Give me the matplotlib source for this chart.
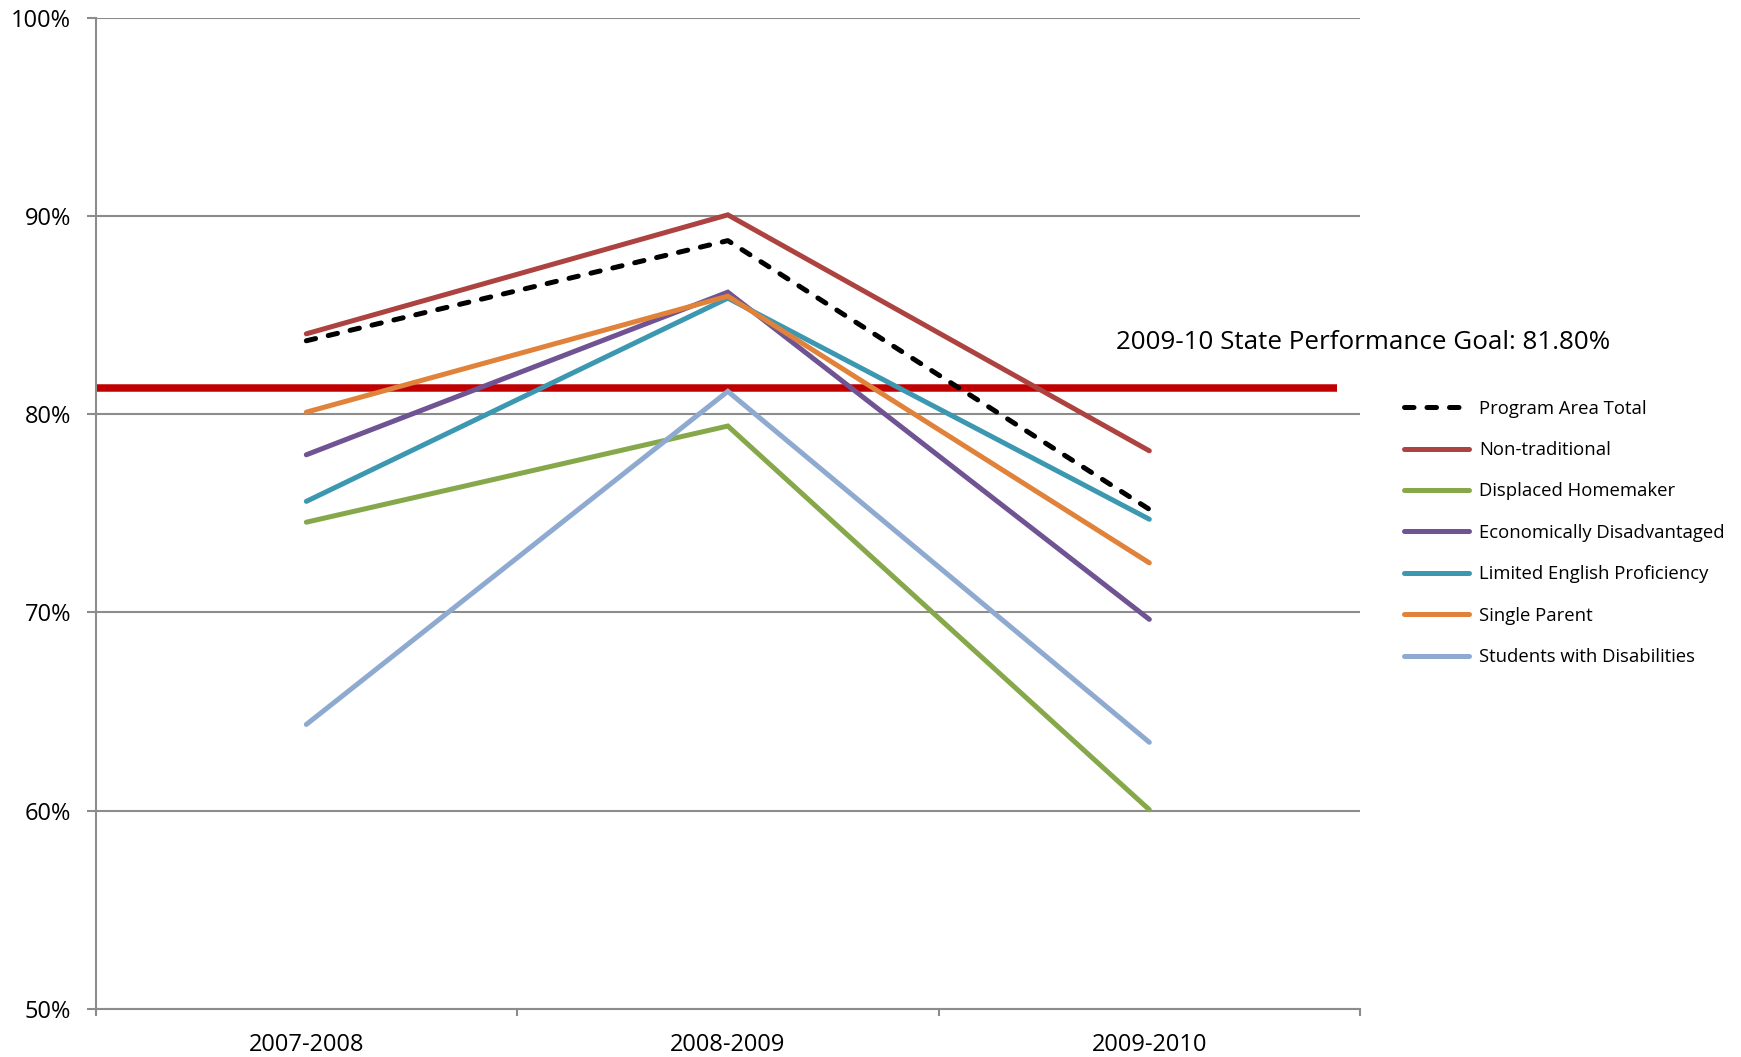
import matplotlib.pyplot as plt

plt.rcParams['font.family'] = ['Open Sans', 'DejaVu Sans']

years = ['2007-2008', '2008-2009', '2009-2010']

program_total = [83.7, 88.75, 75.2]
non_traditional = [84.05, 90.05, 78.15]
displaced_homemaker = [74.55, 79.4, 60.05]
econ_disadvantaged = [77.95, 86.15, 69.65]
limited_english = [75.6, 85.85, 74.7]
single_parent = [80.1, 85.95, 72.5]
disabilities = [64.35, 81.15, 63.45]

goal_value = 81.3
goal_label = '2009-10 State Performance Goal: 81.80%'

y_ticks = [50, 60, 70, 80, 90, 100]

series = [
    ('Non-traditional', non_traditional, '#AD4340'),
    ('Displaced Homemaker', displaced_homemaker, '#86A84A'),
    ('Economically Disadvantaged', econ_disadvantaged, '#6F5392'),
    ('Limited English Proficiency', limited_english, '#3C98B1'),
    ('Single Parent', single_parent, '#E0823A'),
    ('Students with Disabilities', disabilities, '#8FAAD0'),
]

fig = plt.figure(figsize=(17.41, 10.57), dpi=100)
ax = fig.add_axes([0.0549, 0.0454, 0.7263, 0.938])

x = list(range(len(years)))
lw = 3.6

# goal line (drawn first, sits under the data lines)
ax.plot([-0.5, 2.445], [goal_value, goal_value], color='#C00000', linewidth=5.4,
        solid_capstyle='butt', zorder=2)
ax.text(1.92, 83.62, goal_label, fontsize=18.7, va='center', ha='left', clip_on=False)

handles = []
for name, vals, col in series:
    h, = ax.plot(x, vals, color=col, linewidth=lw, solid_capstyle='round',
                 solid_joinstyle='miter', label=name, zorder=3)
    handles.append(h)

tot, = ax.plot(x, program_total, color='black', linewidth=lw, linestyle=(0, (1.9, 2.6)),
               dash_capstyle='round', label='Program Area Total', zorder=4)

ax.set_xlim(-0.5, 2.5)
ax.set_ylim(50, 100)
ax.set_yticks(y_ticks)
ax.set_yticklabels([f'{v}%' for v in y_ticks])
ax.set_xticks(x)
ax.set_xticklabels(years)
ax.set_xticks([-0.5, 0.5, 1.5, 2.5], minor=True)

ax.grid(axis='y', color='#8C8C8C', linewidth=1.5)
ax.set_axisbelow(True)
for s in ['top', 'right']:
    ax.spines[s].set_visible(False)
for s in ['left', 'bottom']:
    ax.spines[s].set_color('#8C8C8C')
    ax.spines[s].set_linewidth(1.5)

ax.tick_params(axis='y', length=6.5, width=1.5, color='#8C8C8C', labelsize=17, pad=11)
ax.tick_params(axis='x', which='major', length=0, labelsize=17, pad=17)
ax.tick_params(axis='x', which='minor', length=5, width=1.5, color='#8C8C8C')

ax.legend([tot] + handles, ['Program Area Total'] + [s[0] for s in series],
          loc='upper left', bbox_to_anchor=(0.802, 0.629), bbox_transform=fig.transFigure,
          frameon=False, fontsize=13.3, handlelength=3.55, handletextpad=0.55,
          labelspacing=1.27, borderaxespad=0)

fig.savefig('out.png', dpi=100)
